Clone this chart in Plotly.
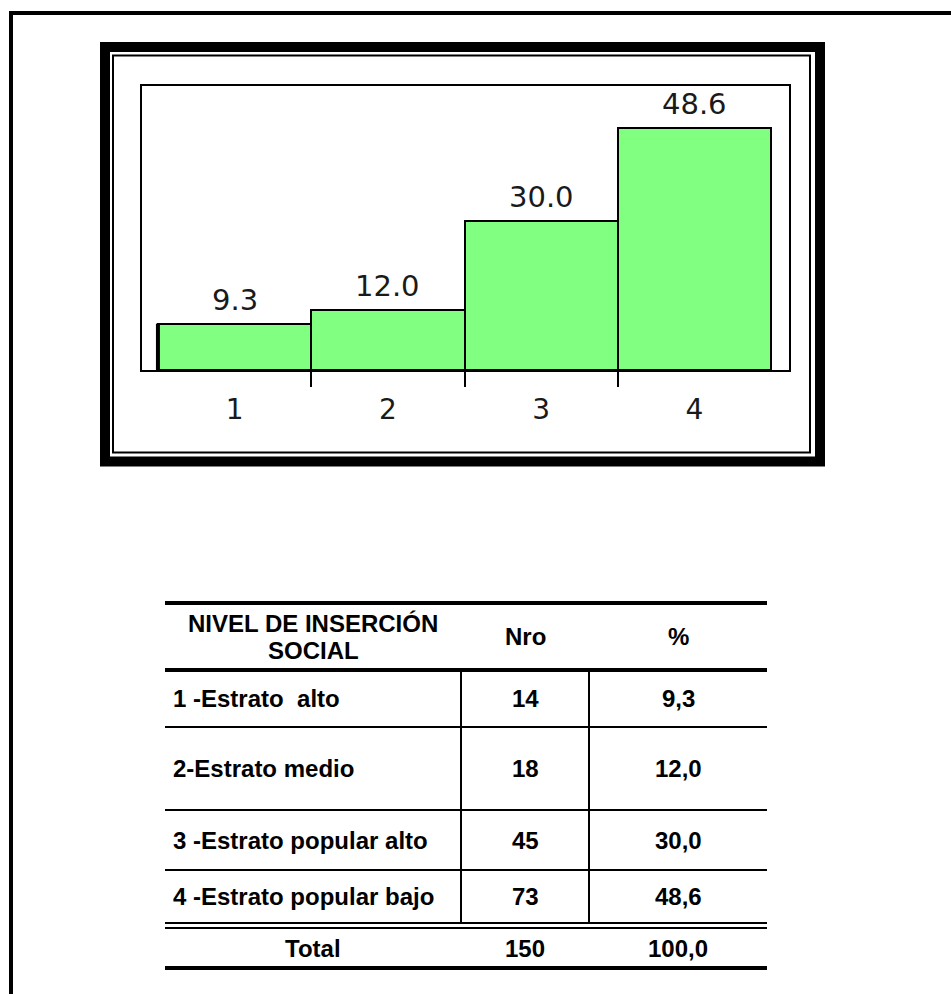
import plotly.graph_objects as go

W, H = 951, 994

# ---- data ----
categories = [1, 2, 3, 4]
percent_values = [9.3, 12.0, 30.0, 48.6]
bar_labels = ["9.3", "12.0", "30.0", "48.6"]
tick_labels = ["1", "2", "3", "4"]

header_col1 = ["NIVEL DE INSERCIÓN", "SOCIAL"]
header_cols = ["Nro", "%"]
row_labels = ["1 -Estrato  alto", "2-Estrato medio", "3 -Estrato popular alto", "4 -Estrato popular bajo"]
row_nro = ["14", "18", "45", "73"]
row_pct = ["9,3", "12,0", "30,0", "48,6"]
total_row = ["Total", "150", "100,0"]


def px(x):
    return x / W


def py(y):
    return 1 - y / H


fig = go.Figure()
fig.add_trace(go.Bar(
    x=categories, y=percent_values, width=1,
    marker=dict(color="#80FF80", line=dict(color="black", width=2)),
    hoverinfo="skip",
))

annotations = []
for c, v, t in zip(categories, percent_values, bar_labels):
    annotations.append(dict(x=c, y=v, xref="x", yref="y", text=t, showarrow=False,
                            yanchor="bottom", yshift=5,
                            font=dict(family="DejaVu Sans", size=29, color="#1a1a1a")))

shapes = []
# thicker left edge of first bar
shapes.append(dict(type="line", xref="x", yref="y", x0=categories[0] - 0.5, x1=categories[0] - 0.5,
                   y0=0, y1=percent_values[0], line=dict(color="black", width=4)))

# page frame
shapes.append(dict(type="rect", xref="paper", yref="paper", x0=px(11), x1=px(1000), y0=py(13), y1=py(1100),
                   line=dict(color="black", width=4)))
# chart frame (thick + thin)
shapes.append(dict(type="rect", xref="paper", yref="paper", x0=px(105), x1=px(820), y0=py(47), y1=py(461.5),
                   line=dict(color="black", width=10)))
shapes.append(dict(type="rect", xref="paper", yref="paper", x0=px(113), x1=px(810), y0=py(55.5), y1=py(452.5),
                   line=dict(color="black", width=2)))

# table lines
TL, TR = 165, 767
for yy, w in [(603, 4), (670, 4), (727, 2), (810, 2), (870, 2), (923, 2), (928, 2), (968, 4)]:
    shapes.append(dict(type="line", xref="paper", yref="paper", x0=px(TL), x1=px(TR), y0=py(yy), y1=py(yy),
                       line=dict(color="black", width=w)))
for xx in [461, 589]:
    shapes.append(dict(type="line", xref="paper", yref="paper", x0=px(xx), x1=px(xx), y0=py(670), y1=py(923),
                       line=dict(color="black", width=2)))

tfont = dict(family="Liberation Sans, Arial", size=24, color="black")


def tann(x, y, txt, anchor="center"):
    annotations.append(dict(x=px(x), y=py(y), xref="paper", yref="paper", text="<b>%s</b>" % txt,
                            showarrow=False, xanchor=anchor, yanchor="middle", font=tfont))


tann(313, 623, header_col1[0])
tann(313, 650, header_col1[1])
tann(525, 636, header_cols[0])
tann(678, 636, header_cols[1])

row_y = [698, 768, 840, 896]
for ry, lab, n, p in zip(row_y, row_labels, row_nro, row_pct):
    tann(171, ry, lab.replace("  ", "&nbsp; "), anchor="left")
    tann(525, ry, n)
    tann(678, ry, p)
for cx, txt in zip([313, 525, 678], total_row):
    tann(cx, 948, txt)

fig.update_layout(
    width=W, height=H, autosize=False,
    margin=dict(l=0, r=0, t=0, b=0),
    paper_bgcolor="white", plot_bgcolor="white",
    showlegend=False, bargap=0,
    xaxis=dict(domain=[px(142), px(789)], range=[0.396, 4.617],
               tickmode="array", tickvals=categories, ticktext=tick_labels, ticks="",
               ticklabelstandoff=13,
               tickfont=dict(family="DejaVu Sans", size=28, color="#1a1a1a"),
               minor=dict(tickmode="array", tickvals=[1.5, 2.5, 3.5], ticks="outside", ticklen=15,
                          tickwidth=2, tickcolor="black"),
               showline=True, linecolor="black", linewidth=2, mirror=True,
               showgrid=False, zeroline=False, fixedrange=True),
    yaxis=dict(domain=[py(370), py(86)], range=[0, 57.0], showticklabels=False, ticks="",
               showline=True, linecolor="black", linewidth=2, mirror=True,
               showgrid=False, zeroline=False, fixedrange=True),
    shapes=shapes, annotations=annotations,
)

fig.write_html("out.html", config={"displayModeBar": False},
               post_script="document.body.style.margin='0';")
